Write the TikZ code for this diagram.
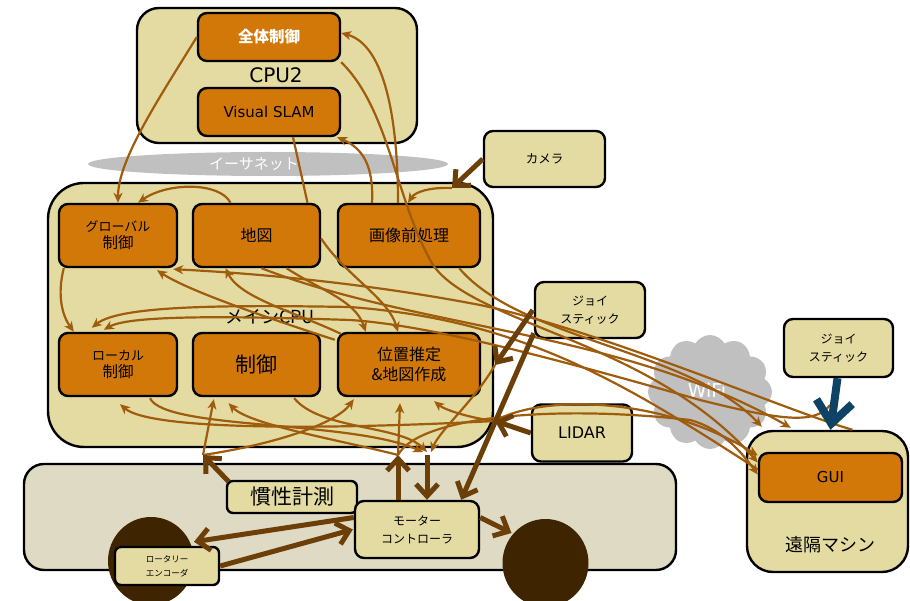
\documentclass[tikz,border=0pt]{standalone}
\usepackage{fontspec}
\setmainfont{Noto Sans CJK JP}
\newfontfamily\lat{DejaVu Sans}
\usetikzlibrary{arrows.meta,shapes.symbols,shapes.geometric,calc}
\definecolor{bg}{HTML}{E3DBA1}
\definecolor{org}{HTML}{D27808}
\definecolor{bodyc}{HTML}{DEDAC3}
\definecolor{wheelc}{HTML}{3E2400}
\definecolor{thinc}{HTML}{9E5C0C}
\definecolor{thickc}{HTML}{6C3E08}
\definecolor{blu}{HTML}{0F4366}
\definecolor{cl}{HTML}{C0C0C0}
\tikzset{
 container/.style={draw=black,line width=2.4pt,fill=bg,inner sep=0pt},
 obox/.style={draw=black,line width=2.4pt,rounded corners=9pt,fill=org,align=center,inner sep=0pt},
 pbox/.style={draw=black,line width=2.4pt,rounded corners=9pt,fill=bg,align=center,inner sep=0pt},
 tl/.style={draw=thinc,line width=2.2pt,-{Stealth[length=10pt,width=9pt,inset=3pt]}},
 tln/.style={draw=thinc,line width=2.2pt},
 tk/.style={draw=thickc,line width=5pt,-{Straight Barb[length=12pt,width=22pt]}},
}
\newcommand{\seclinefont}{\fontsize{15.5}{19}\selectfont}
\begin{document}
\begin{tikzpicture}[x=1pt,y=-1pt]
\useasboundingbox (0,0) rectangle (910,601);
% containers
\node[container,minimum width=280pt,minimum height=135pt,rounded corners=22pt] (cpu2) at (277,75.5) {};
\node[container,minimum width=445pt,minimum height=264pt,rounded corners=36pt] (main) at (270.5,315) {};
\node[container,minimum width=161pt,minimum height=141pt,rounded corners=26pt] (rm) at (827.5,501.5) {};
\node[draw=black,line width=2.4pt,fill=bodyc,minimum width=652pt,minimum height=106pt,rounded corners=20pt] (body) at (350,517) {};
% ethernet
\fill[cl] (268,164) ellipse [x radius=180pt, y radius=12pt];
\node[text=white,font=\fontsize{15}{18}\selectfont] (ethlbl) at (254,164) {イーサネット};
% labels
\node[font=\lat\fontsize{20}{24}\selectfont] (cpu2lbl) at (276,75) {CPU2};
\node[font=\fontsize{18}{22}\selectfont] (mainlbl) at (270,317) {メインCPU};
\node[font=\fontsize{18}{22}\selectfont] (rmlbl) at (830,545) {遠隔マシン};
% boxes
\node[obox,minimum width=142pt,minimum height=48pt,text=white,font=\bfseries\fontsize{15.5}{18}\selectfont] (zentai) at (269,37) {全体制御};
\node[obox,minimum width=142pt,minimum height=48pt,font=\lat\fontsize{15}{18}\selectfont] (slam) at (269,112) {Visual SLAM};
\node[obox,minimum width=118pt,minimum height=63pt,font=\fontsize{13}{17}\selectfont] (glob) at (118,235.5) {グローバル\\{\seclinefont 制御}};
\node[obox,minimum width=127pt,minimum height=63pt,font=\fontsize{16}{20}\selectfont] (map) at (256.5,235.5) {地図};
\node[obox,minimum width=142pt,minimum height=63pt,font=\fontsize{16}{20}\selectfont] (img) at (409,235.5) {画像前処理};
\node[obox,minimum width=118pt,minimum height=63pt,font=\fontsize{13}{17}\selectfont] (loc) at (118,364.5) {ローカル\\{\seclinefont 制御}};
\node[obox,minimum width=127pt,minimum height=63pt,font=\fontsize{21}{24}\selectfont] (ctrl) at (256.5,364.5) {制御};
\node[obox,minimum width=142pt,minimum height=63pt,font=\fontsize{16}{20}\selectfont] (pos) at (409,364.5) {位置推定\\\&地図作成};
\node[pbox,minimum width=121pt,minimum height=56pt,font=\fontsize{12.5}{16}\selectfont] (cam) at (544.5,159) {カメラ};
\node[pbox,minimum width=110pt,minimum height=56pt,font=\fontsize{12}{18}\selectfont] (joy) at (590,310) {ジョイ\\スティック};
\node[pbox,minimum width=100pt,minimum height=57pt,font=\lat\fontsize{16}{19}\selectfont] (lid) at (582,433) {LIDAR};
\node[pbox,minimum width=109pt,minimum height=58pt,font=\fontsize{12}{18}\selectfont] (joy2) at (838.5,348) {ジョイ\\スティック};
\node[obox,minimum width=143pt,minimum height=49pt,font=\lat\fontsize{15}{18}\selectfont] (gui) at (830.5,477.5) {GUI};
% wifi
\node[cloud,cloud puffs=12,cloud puff arc=120,aspect=1.1,fill=cl,minimum width=124pt,minimum height=114pt,inner sep=0pt] (wifi) at (710,392) {};
\node[text=white,font=\lat\fontsize{19}{22}\selectfont] (wifilbl) at (707,390) {WiFi};
% robot body parts
\node[ellipse,fill=wheelc,minimum width=86pt,minimum height=88pt,inner sep=0pt] (wL) at (151,561) {};
\node[ellipse,fill=wheelc,minimum width=86pt,minimum height=88pt,inner sep=0pt] (wR) at (545.5,563) {};
\node[pbox,minimum width=130pt,minimum height=32pt,rounded corners=6pt,font=\fontsize{21}{24}\selectfont] (imu) at (292,497) {慣性計測};
\node[pbox,minimum width=124pt,minimum height=57pt,font=\fontsize{12}{18}\selectfont] (mc) at (417,529.5) {モーター\\コントローラ};
\node[pbox,minimum width=104pt,minimum height=38pt,rounded corners=6pt,font=\fontsize{8.5}{14}\selectfont] (enc) at (167,566) {ロータリー\\エンコーダ};
% junctions
\coordinate (camP) at (452,188);
\coordinate (joyP) at (495,365);
\coordinate (lidP) at (495,421);
\coordinate (imuP) at (203,455);
\coordinate (mcUp) at (398,455);
\coordinate (mcDn) at (427,455);
\coordinate (hook) at (830,405);
% thin connectors
\draw[tl] (zentai.west) .. controls (158,100) and (118,160) .. (glob.north);
\draw[tln] ($(slam.south)+(24,0)$) -- ($(map.north)+(51,0)$);
\draw[tl] ($(img.north)+(-37,0)$) .. controls (374,165) and (362,148) .. ($(slam.south east)+(-4,0)$);
\draw[tl] ($(img.north)+(-11,0)$) .. controls (398,120) and (385,45) .. ($(zentai.east)+(0,-4)$);
\draw[tl] (zentai.south east) .. controls (390,110) and (395,200) .. (433,265) .. controls (475,325) and (650,340) .. ($(gui.west)+(0,-15)$);
\draw[tl] (camP) .. controls (430,187) and (415,192) .. ($(img.north)+(-1,0)$);
\draw[tl] ($(map.north)+(-26,0)$) .. controls (220,182) and (168,182) .. ($(glob.north)+(20,0)$);
\draw[tl] ($(glob.south west)+(6,0)$) .. controls (57,295) and (62,315) .. ($(loc.north west)+(16,0)$);
\draw[tl] ($(map.east)+(0,3)$) .. controls (345,275) and (388,298) .. ($(pos.north)+(-11,0)$);
\draw[tl] ($(map.south)+(30,0)$) .. controls (320,290) and (355,300) .. ($(pos.north west)+(29,0)$);
\draw[tl] ($(map.south)+(5,0)$) .. controls (420,330) and (620,330) .. ($(rm.north west)+(45,-2)$);
\draw[tl] ($(pos.north west)+(4,2)$) .. controls (295,312) and (240,298) .. ($(map.south)+(-31,0)$);
\draw[tl] ($(pos.north west)+(-2,8)$) .. controls (280,322) and (190,292) .. ($(glob.south)+(39,2)$);
\draw[tl] ($(rm.north)+(25,0)$) .. controls (790,412) and (600,330) .. (480,305) .. controls (350,280) and (230,272) .. ($(glob.south east)+(-5,1)$);
\draw[tl] ($(img.south east)+(-22,0)$) .. controls (520,340) and (690,350) .. ($(rm.north west)+(16,-3)$);
\draw[tl] ($(gui.west)+(0,-8)$) .. controls (620,380) and (520,320) .. (350,307) .. controls (230,305) and (120,305) .. ($(loc.north west)+(34,-4)$);
\draw[tl] (hook) .. controls (815,425) and (780,420) .. (700,400) .. controls (560,360) and (430,325) .. (350,320) .. controls (230,316) and (130,315) .. ($(loc.north west)+(46,-2)$);
\draw[tl] (imuP) -- ($(ctrl.south west)+(22,2)$);
\draw[tl] (imuP) .. controls (270,445) and (335,425) .. ($(pos.south west)+(17,2)$);
\draw[tl] (mcUp) -- ($(pos.south)+(-9,6)$);
\draw[tl] (mcUp) .. controls (340,440) and (250,425) .. ($(ctrl.south)+(-28,6)$);
\draw[tl] (lidP) .. controls (320,430) and (150,430) .. ($(loc.south)+(2,7)$);
\draw[tl] (lidP) .. controls (470,418) and (445,410) .. ($(pos.south east)+(-47,4)$);
\draw[tl] ($(loc.south)+(32,1)$) .. controls (165,430) and (350,420) .. ($(mcDn)+(-4,-3)$);
\draw[tl] ($(ctrl.south east)+(-27,1)$) .. controls (320,430) and (400,425) .. ($(mcDn)+(0,-3)$);
\draw[tl] (joyP) .. controls (475,400) and (440,430) .. ($(mcDn)+(4,-3)$);
\draw[tl] (mcUp) .. controls (420,415) and (560,405) .. (690,420) .. controls (720,428) and (740,450) .. ($(gui.west)+(0,-3)$);
\draw[tl] (lidP) .. controls (540,395) and (660,395) .. ($(gui.west)+(0,-22)$);
% thick connectors
\draw[tk] ($(imu.north west)+(3,2)$) -- (imuP);
\draw[tk] ($(mc.north)+(-19,0)$) -- (mcUp);
\draw[tk] (mcDn) -- ($(mc.north)+(10,0)$);
\draw[tk] ($(joy.west)+(-1,0)$) -- (joyP);
\draw[tk] ($(joy.south west)+(0,-6)$) -- ($(mc.north east)+(-19,0)$);
\draw[tk] (lid.west) -- (lidP);
\draw[tk] (cam.west) -- (camP);
\draw[tk] ($(mc.east)+(0,-12)$) -- ($(wR.center)+(-34,-30)$);
\draw[tk] ($(mc.west)+(0,-12)$) -- ($(enc.north)+(27,-4)$);
\draw[tk] (enc.east) -- ($(mc.west)+(-1,0)$);
\draw[draw=blu,line width=8pt,-{Straight Barb[length=22pt,width=36pt]}] ($(joy2.south)+(-1,0)$) -- ($(rm.north)+(3,0)$);
\end{tikzpicture}
\end{document}
